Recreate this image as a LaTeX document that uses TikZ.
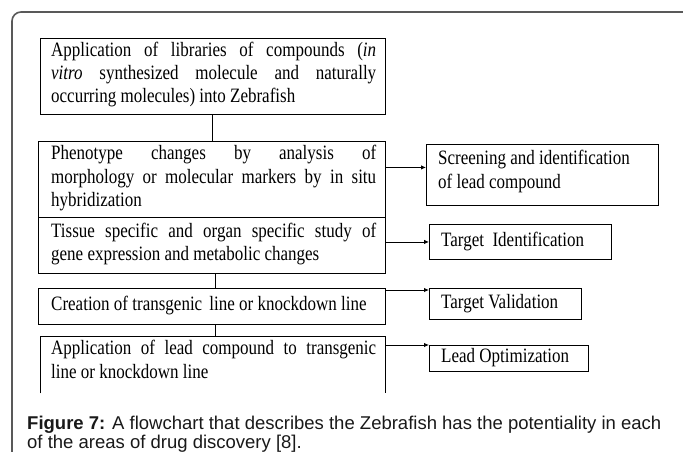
\documentclass[tikz,border=0pt]{standalone}
\usepackage{fontspec}
\usepackage{graphicx}
\setmainfont{Liberation Serif}
\newfontfamily\capfont{Liberation Sans}
\usetikzlibrary{arrows.meta}
\newcommand\bxlines[1]{\scalebox{1}[1.2]{\begin{tabular}[t]{@{}l@{}}#1\end{tabular}}}
\newcommand\jl[1]{\makebox[325pt][s]{#1}}
\begin{document}
\begin{tikzpicture}[x=1pt,y=-1pt,
  box/.style={draw=black, line width=0.9pt, inner sep=0pt, anchor=north west},
  txt/.style={inner sep=0pt, anchor=north west, align=left, font=\fontsize{17}{19.5}\selectfont},
  link/.style={draw=black, line width=0.9pt},
  arr/.style={draw=black, line width=0.9pt, -{Latex[length=5pt,width=4.5pt]}},
  frame/.style={draw=black!65, line width=1.6pt, rounded corners=9pt},
  captxt/.style={anchor=base west, inner sep=0pt, text=black!90, font=\capfont\fontsize{18.5}{19}\selectfont}]
\useasboundingbox (0,0) rectangle (683,452);
\fill[white] (0,0) rectangle (683,452);
\draw[frame] (683,12) -- (12,12) -- (12,452);
% left column
\node[box, minimum width=345.5pt, minimum height=76pt] (b1) at (39.6,38) {};
\node[txt] (b1t) at (51,39.6) {\bxlines{\jl{Application of libraries of compounds (\textit{in}}\\
\jl{\textit{vitro} synthesized molecule and naturally}\\
occurring molecules) into Zebrafish}};
\node[box, minimum width=347pt, minimum height=76pt] (b2) at (38,141) {};
\node[txt] (b2t) at (51,143.1) {\bxlines{\jl{Phenotype changes by analysis of}\\
\jl{morphology or molecular markers by in situ}\\
hybridization}};
\node[box, minimum width=347pt, minimum height=56pt] (b3) at (38,217) {};
\node[txt] (b3t) at (51,220.5) {\bxlines{\jl{Tissue specific and organ specific study of}\\
gene expression and metabolic changes}};
\node[box, minimum width=347pt, minimum height=36pt] (b4) at (38,288) {};
\node[txt] (b4t) at (51,294) {\bxlines{Creation of transgenic\, line or knockdown line}};
\node[inner sep=0pt, anchor=north west, minimum width=344.5pt, minimum height=57pt] (b5) at (40.5,336) {};
\draw[link] (b5.south west) -- (b5.north west) -- (b5.north east) -- (b5.south east);
\node[txt] (b5t) at (51,338.1) {\bxlines{\jl{Application of lead compound to transgenic}\\
line or knockdown line}};
% right column
\node[box, minimum width=232pt, minimum height=61pt] (s1) at (426,144) {};
\node[txt] (s1t) at (438,148.1) {\bxlines{Screening and identification\\ of lead compound}};
\node[box, minimum width=182pt, minimum height=35pt] (t1) at (429,224) {};
\node[txt] (t1t) at (441,229.6) {\bxlines{Target\ \ Identification}};
\node[box, minimum width=151.6pt, minimum height=30.7pt] (tv) at (429,288) {};
\node[txt] (tvt) at (441,291.6) {\bxlines{Target Validation}};
\node[box, minimum width=159pt, minimum height=25.7pt] (lo) at (429,345) {};
\node[txt] (lot) at (441,346.1) {\bxlines{Lead Optimization}};
% connectors
\draw[link] (b1.south) -- (b1.south |- b2.north);
\draw[link] ([xshift=3pt]b3.south) -- ([xshift=3pt]b3.south |- b4.north);
\draw[link] ([xshift=3pt]b4.south) -- ([xshift=3pt]b4.south |- b5.north);
\coordinate (s1a) at ([yshift=7.5pt]s1.west);
\draw[arr] (s1a -| b2.east) -- (s1a);
\draw[arr] (t1.west -| b3.east) -- (t1.west);
\coordinate (tva) at ([yshift=-2pt]tv.north west);
\draw[arr] (tva -| b4.east) -- (tva);
\draw[arr] (lo.north west -| b5.east) -- (lo.north west);
% caption
\node[captxt] (cap1) at (27,429) {\textbf{Figure 7:} A flowchart that describes the Zebrafish has the potentiality in each};
\node[captxt] (cap2) at (27,448) {of the areas of drug discovery [8].};
\end{tikzpicture}
\end{document}
